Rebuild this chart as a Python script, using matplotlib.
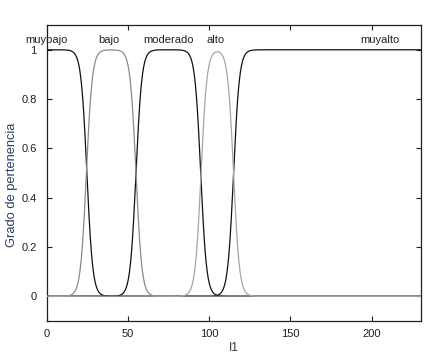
import matplotlib
matplotlib.use("Agg")
import matplotlib.pyplot as plt
import numpy as np

# membership functions: 0.5-crossing of the rising and falling edge
mf_names = ["muybajo", "bajo", "moderado", "alto", "muyalto"]
mf_rise = [None, 24.5, 55, 95, 115]
mf_fall = [24.8, 55, 94.8, 115, None]
mf_slope = 0.55
label_x = [0, 38.5, 75, 104, 205]
mf_colors = ["#111111", "#8a8a8a", "#111111", "#a5a5a5", "#111111"]
mf_zorder = [2, 3, 2, 4, 1]

x_ticks = [0, 50, 100, 150, 200]
y_ticks = [0, 0.2, 0.4, 0.6, 0.8, 1]


def sig(x, k, c):
    return 1.0 / (1.0 + np.exp(-k * (x - c)))


def mf(x, r, f):
    y = np.ones_like(x)
    if r is not None:
        y = y * sig(x, mf_slope, r)
    if f is not None:
        y = y * sig(x, -mf_slope, f)
    return y


plt.rcParams['font.family'] = ['Liberation Sans', 'DejaVu Sans']
fig = plt.figure(figsize=(4.27, 3.59), dpi=100)
ax = fig.add_axes([0.109, 0.106, 0.876, 0.824])

xs = np.linspace(0, 230, 1500)
for name, r, f, lx, c, z in zip(mf_names, mf_rise, mf_fall, label_x, mf_colors, mf_zorder):
    ax.plot(xs, mf(xs, r, f), color=c, lw=0.9, zorder=z)
    ax.text(lx, 1.02, name, ha="center", va="bottom", fontsize=8, color="#202020")

ax.set_xlim(0, 230)
ax.set_ylim(-0.1, 1.1)
ax.set_xticks(x_ticks)
ax.set_yticks(y_ticks)
ax.set_yticklabels(["0", "0.2", "0.4", "0.6", "0.8", "1"])
ax.tick_params(direction="in", length=3.5, width=0.8, labelsize=8,
               top=True, right=True, colors="#202020")
ax.tick_params(axis="y", pad=7)
ax.tick_params(axis="x", pad=6)
for s in ax.spines.values():
    s.set_linewidth(0.9)
    s.set_color("#202020")

ax.set_xlabel("I1", fontsize=8.5, color="#333333", labelpad=2)
ax.set_ylabel("Grado de pertenencia", fontsize=9.3, color="#2a3f66")
ax.yaxis.set_label_coords(-0.077, 0.46)

plt.savefig("out.png", dpi=100)
